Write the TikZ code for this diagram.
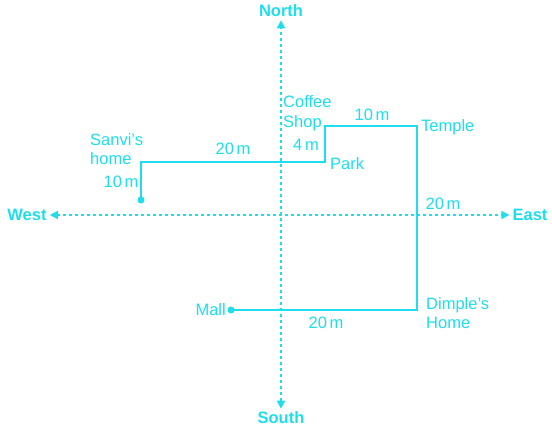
\documentclass[tikz,border=0pt]{standalone}
\usepackage{fontspec}
\setmainfont{Liberation Sans}
\usetikzlibrary{positioning,arrows.meta}
\definecolor{cyanline}{RGB}{28,222,236}

\begin{document}
\begin{tikzpicture}[
  x=1pt,y=-1pt,
  font=\fontsize{16.5}{19.5}\selectfont,
  lbl/.style={text=cyanline,inner sep=1pt,align=left},
  dir/.style={text=cyanline,inner sep=1pt,font=\fontsize{16.5}{19}\selectfont\bfseries},
  axis/.style={cyanline,line width=1.5pt,dash pattern=on 3pt off 3pt,
    {Triangle[length=8pt,width=8pt]}-{Triangle[length=8pt,width=8pt]},shorten <=2pt,shorten >=2pt},
  route/.style={cyanline,line width=1.8pt},
  dot/.style={circle,fill=cyanline,inner sep=0pt,minimum size=7pt},
]
\useasboundingbox (0,0) rectangle (552,431);
% compass
\node[dir] (north) at (281,11) {North};
\node[dir] (south) at (281,418) {South};
\node[dir] (west) at (27,215) {West};
\node[dir] (east) at (530,215) {East};
\draw[axis] (south.north) -- (north.south);
\draw[axis] (west.east) -- (east.west);
% route
\node[dot] (sanvi) at (141,200) {};
\coordinate (c1) at (141,162);
\coordinate (park) at (325,162);
\coordinate (coffee) at (325,126);
\coordinate (temple) at (417,126);
\coordinate (dimple) at (417,310);
\node[dot] (mall) at (231,310) {};
\draw[route] (sanvi.center) -- (c1) -- (park) -- (coffee) -- (temple) -- (dimple) -- (mall.center);
% places
\node[lbl,anchor=west] (sanvilbl) at (89,149) {Sanvi's\\home};
\node[lbl,anchor=west] (coffeelbl) at (282,113) {Coffee\\Shop};
\node[lbl,anchor=west] (parklbl) at (329,164) {Park};
\node[lbl,anchor=west] (templelbl) at (420,127) {Temple};
\node[lbl,anchor=west] (dimplelbl) at (425,313) {Dimple's\\Home};
\node[lbl,anchor=east] (malllbl) at (227,310) {Mall};
% distances
\node[lbl] (d1) at (121,182) {10\,m};
\node[lbl] (d2) at (233,149) {20\,m};
\node[lbl] (d3) at (306,145) {4\,m};
\node[lbl] (d4) at (372,115) {10\,m};
\node[lbl] (d5) at (443,204) {20\,m};
\node[lbl] (d6) at (326,323) {20\,m};
\end{tikzpicture}
\end{document}
